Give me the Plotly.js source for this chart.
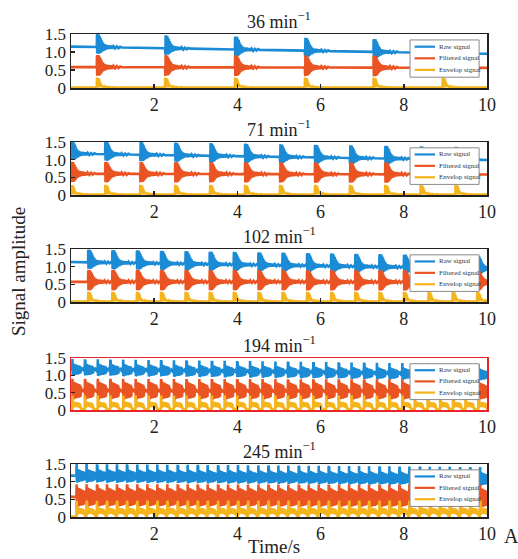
<!DOCTYPE html>
<html><head><meta charset="utf-8">
<script src="https://cdn.plot.ly/plotly-3.0.1.min.js"></script>
<style>html,body{margin:0;padding:0;background:#fff}#chart{width:518px;height:559px}</style>
</head><body><div id="chart"></div>
<script>
// ---------------- data ----------------
const speedLabels = ["36", "71", "102", "194", "245"];
const seriesNames = ["Raw signal", "Filtered signal", "Envelop signal"];
const timeTicks = [2, 4, 6, 8, 10];
const ampTicks = [0, 0.5, 1.0, 1.5];
const ampTickText = ["0", "0.5", "1.0", "1.5"];

// impact (burst onset) times in seconds
const impacts36 = [0.62, 2.26, 3.94, 5.62, 7.27, 8.93];
const impacts71 = [0.0, 0.82, 1.66, 2.50, 3.34, 4.18, 5.02, 5.86, 6.70, 7.55, 8.40, 9.24];
const impacts102 = [0.41, 0.99, 1.58, 2.16, 2.75, 3.33, 3.91, 4.50, 5.08, 5.67, 6.25, 6.83, 7.41, 8.00, 8.59, 9.17, 9.76];
const impacts194 = [0.03, 0.33, 0.64, 0.94, 1.25, 1.55, 1.86, 2.16, 2.47, 2.77, 3.08, 3.38, 3.69, 3.99, 4.30, 4.60, 4.91, 5.21, 5.52, 5.82, 6.13, 6.43, 6.74, 7.04, 7.35, 7.65, 7.96, 8.26, 8.57, 8.87, 9.18, 9.48, 9.79];
const impacts245 = [0.13, 0.37, 0.62, 0.86, 1.10, 1.34, 1.59, 1.83, 2.07, 2.31, 2.56, 2.80, 3.04, 3.28, 3.53, 3.77, 4.01, 4.25, 4.50, 4.74, 4.98, 5.22, 5.47, 5.71, 5.95, 6.19, 6.44, 6.68, 6.92, 7.16, 7.41, 7.65, 7.89, 8.13, 8.38, 8.62, 8.86, 9.10, 9.35, 9.59, 9.83];

// signal levels between bursts, read at t = 0, 5, 10 s
const levelTimes = [0, 5, 10];
const rawLevel36 = [1.15, 1.05, 0.95];
const rawLevel71 = [1.17, 1.08, 0.99];
const rawLevel102 = [1.13, 1.04, 0.95];
const rawLevel194 = [1.17, 1.10, 1.02];
const rawLevel245 = [1.17, 1.13, 1.08];
const filtLevel36 = [0.58, 0.57, 0.56];
const filtLevel71 = [0.60, 0.59, 0.58];
const filtLevel102 = [0.57, 0.57, 0.56];
const filtLevel194 = [0.57, 0.56, 0.55];
const filtLevel245 = [0.57, 0.56, 0.55];

// one burst (offsets from level; envelope absolute)
const slowDt = [0, 0.005, 0.01, 0.015, 0.02, 0.025, 0.03, 0.035, 0.04, 0.05, 0.06, 0.07, 0.08, 0.09, 0.10, 0.11, 0.12, 0.13, 0.14, 0.15, 0.17, 0.19, 0.21, 0.23, 0.25, 0.28, 0.31, 0.34, 0.37, 0.40, 0.44, 0.48, 0.52, 0.56, 0.60];
const slowRaw = [0, 0.34, -0.18, 0.36, -0.17, 0.30, -0.17, 0.28, -0.16, 0.35, -0.18, 0.30, -0.17, 0.26, -0.15, 0.20, -0.13, 0.15, -0.11, 0.12, -0.10, 0.08, -0.07, 0.06, -0.05, 0.05, -0.04, 0.04, -0.035, 0.03, -0.03, 0.025, -0.02, 0.02, 0];
const slowFilt = [0, 0.32, -0.24, 0.34, -0.23, 0.28, -0.22, 0.27, -0.21, 0.33, -0.23, 0.28, -0.21, 0.24, -0.18, 0.19, -0.15, 0.15, -0.12, 0.12, -0.10, 0.09, -0.08, 0.07, -0.06, 0.06, -0.05, 0.045, -0.04, 0.035, -0.03, 0.03, -0.025, 0.02, 0];
const slowEnv = [0.01, 0.26, 0.03, 0.28, 0.03, 0.20, 0.03, 0.18, 0.02, 0.27, 0.03, 0.20, 0.02, 0.13, 0.02, 0.09, 0.02, 0.07, 0.02, 0.05, 0.01, 0.04, 0.01, 0.03, 0.01, 0.03, 0.01, 0.02, 0.01, 0.02, 0.01, 0.02, 0.01, 0.01, 0.01];

// one burst
const fastDt = [0, 0.005, 0.01, 0.015, 0.02, 0.03, 0.04, 0.05, 0.06, 0.07, 0.08, 0.09, 0.10, 0.11, 0.12, 0.13, 0.14, 0.15, 0.16, 0.17, 0.18, 0.19, 0.20, 0.21, 0.22, 0.23, 0.24, 0.26, 0.28, 0.30];
const fastRaw = [0, 0.30, -0.17, 0.28, -0.15, 0.17, -0.16, 0.16, -0.16, 0.15, -0.15, 0.14, -0.15, 0.13, -0.15, 0.12, -0.14, 0.12, -0.13, 0.11, -0.12, 0.10, -0.10, 0.06, -0.04, 0.03, -0.02, 0.02, -0.02, 0.01];
const fastFilt = [0, 0.30, -0.25, 0.28, -0.24, 0.22, -0.22, 0.21, -0.22, 0.20, -0.21, 0.19, -0.21, 0.18, -0.20, 0.17, -0.20, 0.16, -0.19, 0.15, -0.18, 0.14, -0.16, 0.08, -0.06, 0.04, -0.03, 0.02, -0.02, 0.01];
const fastEnv = [0.01, 0.42, 0.06, 0.38, 0.06, 0.24, 0.08, 0.24, 0.08, 0.23, 0.08, 0.23, 0.08, 0.22, 0.08, 0.22, 0.08, 0.21, 0.07, 0.20, 0.06, 0.16, 0.04, 0.06, 0.02, 0.03, 0.01, 0.01, 0.01, 0.01];

const rawGain = [1, 1, 1, 1, 1.1];
const filtGain = [1, 1, 1, 1.1, 1.2];
const envGain = [1, 1, 1, 1, 1.1];

// ---------------- build ----------------
const colors = ["#1a8bd4", "#ea5322", "#f4b41c"];
const serif = "'Liberation Serif', 'Times New Roman', Times, serif";

const impactsAll = [impacts36, impacts71, impacts102, impacts194, impacts245];
const rawLevels = [rawLevel36, rawLevel71, rawLevel102, rawLevel194, rawLevel245];
const filtLevels = [filtLevel36, filtLevel71, filtLevel102, filtLevel194, filtLevel245];

function levelAt(levels, t) {
  if (t <= levelTimes[0]) return levels[0];
  for (let i = 1; i < levelTimes.length; i++) {
    if (t <= levelTimes[i]) {
      const f = (t - levelTimes[i - 1]) / (levelTimes[i] - levelTimes[i - 1]);
      return levels[i - 1] + f * (levels[i] - levels[i - 1]);
    }
  }
  return levels[levels.length - 1];
}

function buildSeries(impacts, levels, dt, shape, gain) {
  const xs = [], ys = [];
  const base = t => levels ? levelAt(levels, t) : 0;
  const floor = levels ? 0 : shape[shape.length - 1];
  if (impacts[0] > 0) { xs.push(0); ys.push(base(0) + floor); }
  for (let i = 0; i < impacts.length; i++) {
    const t0 = impacts[i];
    const tn = i + 1 < impacts.length ? impacts[i + 1] : 10.8;
    for (let j = 0; j < dt.length; j++) {
      const t = t0 + dt[j];
      if (t >= tn - 0.003) break;
      xs.push(t); ys.push(base(t) + gain * shape[j]);
    }
  }
  const lastX = xs[xs.length - 1];
  if (lastX < 10) { xs.push(10); ys.push(base(10) + floor); }
  return { xs, ys };
}

const traces = [];
const layout = {
  width: 518, height: 559,
  margin: { l: 0, r: 0, t: 0, b: 0 },
  paper_bgcolor: "#fff", plot_bgcolor: "#fff",
  showlegend: false,
  hovermode: false,
  font: { family: serif, color: "#222" },
  shapes: [], annotations: []
};

// panel pixel boxes (top, bottom) in the 559px tall figure
const panelTop = [34, 142, 249, 358, 464];
const panelBottom = [88, 195, 302, 410, 517];
const xDom = [71 / 518, 487 / 518];

for (let k = 0; k < 5; k++) {
  const sfx = k === 0 ? "" : String(k + 1);
  const fast = k >= 3;
  const dt = fast ? fastDt : slowDt;
  const shapes3 = fast ? [fastRaw, fastFilt, fastEnv] : [slowRaw, slowFilt, slowEnv];
  const lv = [rawLevels[k], filtLevels[k], null];
  const gains = [rawGain[k], filtGain[k], envGain[k]];
  for (let s = 0; s < 3; s++) {
    const ser = buildSeries(impactsAll[k], lv[s], dt, shapes3[s], gains[s]);
    traces.push({
      type: "scatter", mode: "lines", x: ser.xs, y: ser.ys,
      name: seriesNames[s], xaxis: "x" + sfx, yaxis: "y" + sfx,
      line: { color: colors[s], width: 2.6 }, hoverinfo: "skip"
    });
  }
  const frame = k === 3 ? "#e8262a" : "#222";
  layout["xaxis" + sfx] = {
    domain: xDom, anchor: "y" + sfx, range: [0, 10],
    tickvals: timeTicks, ticktext: timeTicks.map(String),
    ticks: "inside", ticklen: 4, tickwidth: 1.5, tickcolor: "#222",
    showline: true, mirror: true, linecolor: frame, linewidth: 1.5,
    showgrid: false, zeroline: false,
    tickfont: { family: serif, size: 18, color: "#222" }
  };
  layout["yaxis" + sfx] = {
    domain: [1 - panelBottom[k] / 559, 1 - panelTop[k] / 559], anchor: "x" + sfx,
    range: [0, 1.5], tickvals: ampTicks, ticktext: ampTickText,
    ticks: "inside", ticklen: 4, tickwidth: 1.5, tickcolor: "#222",
    showline: true, mirror: true, linecolor: frame, linewidth: 1.5,
    showgrid: false, zeroline: false,
    tickfont: { family: serif, size: 17, color: "#222" }
  };
  const xr = "x" + sfx + " domain", yr = "y" + sfx + " domain";
  // panel title
  layout.annotations.push({
    xref: xr, yref: yr, x: 0.5, y: 1, xanchor: "center", yanchor: "bottom", yshift: 0,
    text: speedLabels[k] + " min<sup>\u22121</sup>", showarrow: false,
    font: { family: serif, size: 18, color: "#222" }
  });
  // legend box
  layout.shapes.push({
    type: "rect", xref: xr, yref: yr, x0: 0.815, x1: 0.981, y0: 0.20, y1: 0.89,
    fillcolor: "#fff", line: { color: "#8a8a8a", width: 1 }, layer: "above"
  });
  const rowY = [0.765, 0.55, 0.335];
  for (let s = 0; s < 3; s++) {
    layout.shapes.push({
      type: "line", xref: xr, yref: yr, x0: 0.826, x1: 0.875, y0: rowY[s], y1: rowY[s],
      line: { color: colors[s], width: 2.2 }, layer: "above"
    });
    layout.annotations.push({
      xref: xr, yref: yr, x: 0.879, y: rowY[s], xanchor: "left", yanchor: "middle",
      text: seriesNames[s], showarrow: false,
      font: { family: serif, size: 7, color: "#333" }
    });
  }
}

layout.annotations.push({
  xref: "paper", yref: "paper", x: 18 / 518, y: 1 - 272 / 559, xanchor: "center", yanchor: "middle",
  text: "Signal amplitude", textangle: -90, showarrow: false,
  font: { family: serif, size: 19, color: "#222" }
});
layout.annotations.push({
  xref: "paper", yref: "paper", x: 274 / 518, y: 1 - 546 / 559, xanchor: "center", yanchor: "middle",
  text: "Time/s", showarrow: false, font: { family: serif, size: 19, color: "#222" }
});
layout.annotations.push({
  xref: "paper", yref: "paper", x: 511 / 518, y: 1 - 536 / 559, xanchor: "center", yanchor: "middle",
  text: "A", showarrow: false, font: { family: serif, size: 20, color: "#222" }
});

Plotly.newPlot("chart", traces, layout, { staticPlot: true, displayModeBar: false });
</script></body></html>
